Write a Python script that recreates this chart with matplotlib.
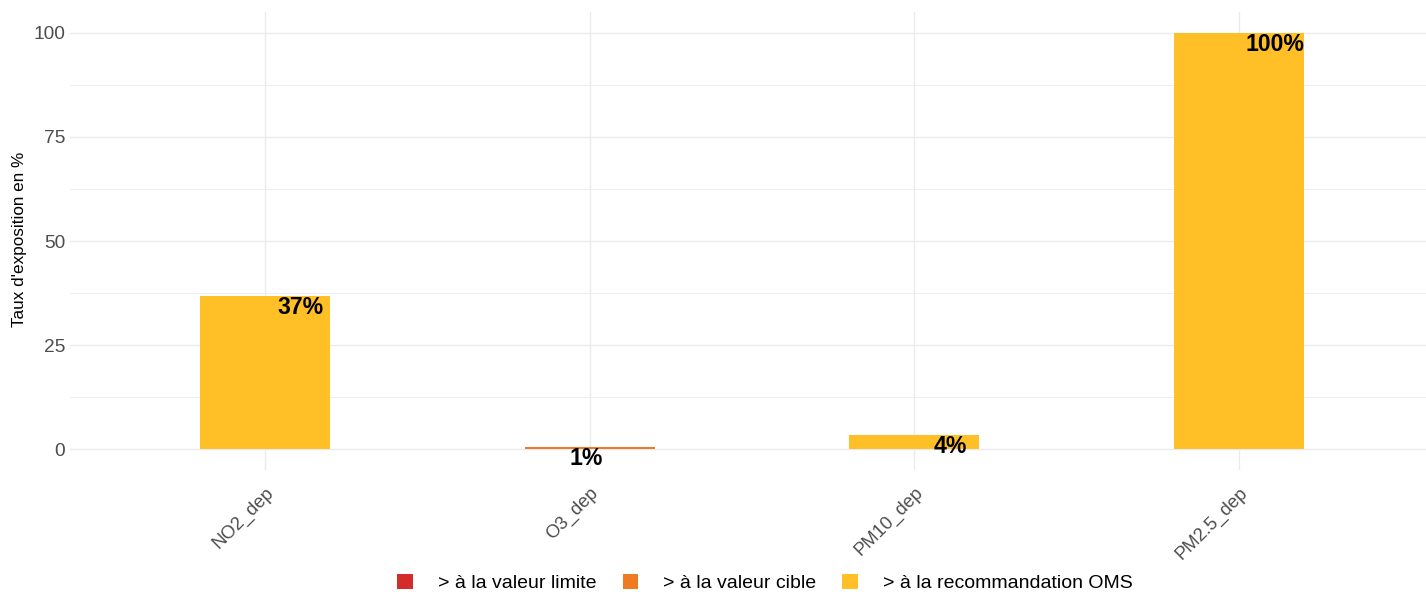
import matplotlib
matplotlib.use("Agg")
import matplotlib.pyplot as plt
from matplotlib.patches import Patch

plt.rcParams['font.family'] = ['Liberation Sans', 'DejaVu Sans']

categories = ["NO2_dep", "O3_dep", "PM10_dep", "PM2.5_dep"]
series_names = ["> à la valeur limite", "> à la valeur cible", "> à la recommandation OMS"]
colors = ["#D42B2B", "#F07A21", "#FEBF27"]
# value per category and the series it belongs to
values = [36.8, 0.6, 3.4, 100.0]
series_idx = [2, 1, 2, 2]
labels = ["37%", "1%", "4%", "100%"]
label_offsets = [0.11, -0.01, 0.11, 0.11]

fig = plt.figure(figsize=(14.26, 5.94), dpi=100)
ax = fig.add_axes([70/1426, 1-470/594, 1-70/1426, (470-12)/594])

x = list(range(1, len(categories) + 1))
for xi, v, s in zip(x, values, series_idx):
    ax.bar(xi, v, width=0.4, color=colors[s], zorder=2)

for xi, v, lab, off in zip(x, values, labels, label_offsets):
    ax.text(xi + off, v, lab, ha='center', va='top', fontsize=16.6,
            fontweight='bold', color='black', zorder=3)

ax.set_xlim(0.4, 4.575)
ax.set_ylim(-5, 105)
ax.set_yticks([0, 25, 50, 75, 100])
ax.set_yticks([12.5, 37.5, 62.5, 87.5], minor=True)
ax.set_xticks(x)
ax.set_xticklabels(categories, rotation=45, ha='right', rotation_mode='anchor')
ax.grid(True, which='major', color='#EBEBEB', linewidth=1.0, zorder=0)
ax.grid(True, which='minor', axis='y', color='#EBEBEB', linewidth=0.6, zorder=0)
ax.set_axisbelow(True)
for sp in ax.spines.values():
    sp.set_visible(False)
ax.tick_params(axis='both', which='both', length=0, colors='#4D4D4D', labelsize=13.8)
ax.tick_params(axis='x', labelsize=13.3)
ax.tick_params(axis='y', pad=3.5)
ax.tick_params(axis='x', pad=10)
fig.text(20/1426, 1-239/594, "Taux d'exposition en %", rotation=90, ha='center',
         va='center', fontsize=12.3, color='black')

handles = [Patch(facecolor=c, edgecolor='none') for c in colors]
fig.legend(handles, series_names, loc='center', bbox_to_anchor=(765/1426, 1-583/594),
           ncol=3, frameon=False, fontsize=14, handlelength=0.78, handleheight=0.78,
           handletextpad=1.3, columnspacing=1.35)

fig.savefig("out.png", dpi=100)
